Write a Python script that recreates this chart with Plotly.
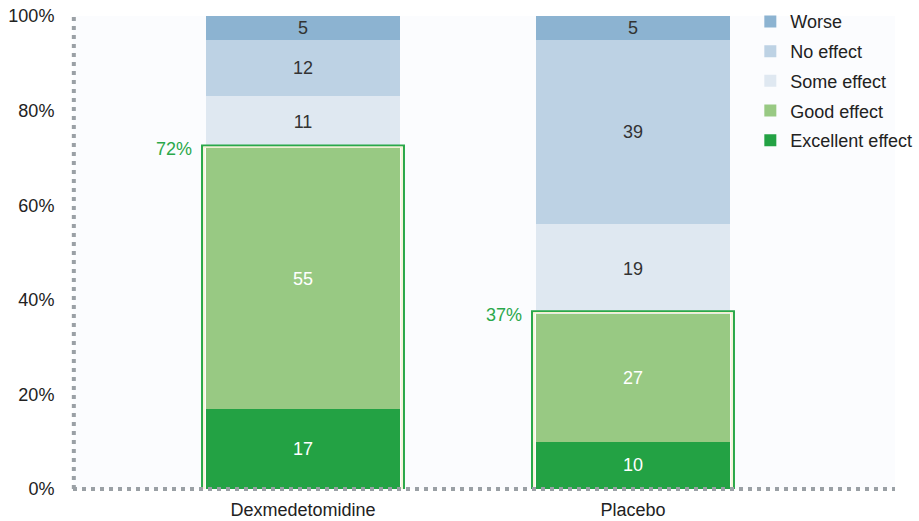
import plotly.graph_objects as go

categories = ["Dexmedetomidine", "Placebo"]
series_names = ["Excellent effect", "Good effect", "Some effect", "No effect", "Worse"]
excellent = [17, 10]
good = [55, 27]
some = [11, 19]
no_effect = [12, 39]
worse = [5, 5]
combined_labels = ["72%", "37%"]
y_ticks = [0, 20, 40, 60, 80, 100]

series_values = [excellent, good, some, no_effect, worse]
colors = ["#23a244", "#98c983", "#dfe8f1", "#bdd2e4", "#8cb3d1"]
text_colors = ["white", "white", "#333333", "#333333", "#333333"]

FONT = "Liberation Sans, Arial"
x_pos = list(range(len(categories)))
bar_w = 0.59

fig = go.Figure()
n = len(series_names)
for k, (name, vals, col, tcol) in enumerate(zip(series_names, series_values, colors, text_colors)):
    fig.add_trace(go.Bar(
        x=x_pos, y=vals, name=name, width=bar_w, legendgroup=name,
        legendrank=n - k,
        marker=dict(color=col, line=dict(width=0)),
        text=[str(v) for v in vals], textposition="inside",
        insidetextanchor="middle", textangle=0,
        textfont=dict(size=18, color=tcol, family=FONT),
        hoverinfo="skip",
    ))

shapes = []
annotations = []
pad_x = 0.011
pad_y = 0.6
for i in x_pos:
    top = excellent[i] + good[i]
    x0 = i - bar_w / 2
    x1 = i + bar_w / 2
    shapes.append(dict(type="rect", xref="x", yref="y",
                       x0=x0 - pad_x, x1=x1 + pad_x, y0=0 - pad_y, y1=top + pad_y,
                       line=dict(color="#2aa84a", width=2), fillcolor="rgba(0,0,0,0)"))
    shapes.append(dict(type="rect", xref="x", yref="y",
                       x0=x0 - pad_x / 2.2, x1=x1 + pad_x / 2.2, y0=0 - pad_y / 2.2, y1=top + pad_y / 2.2,
                       line=dict(color="#f6f1c9", width=1.3), fillcolor="rgba(0,0,0,0)"))
    annotations.append(dict(x=x0 - 0.035, y=top, xref="x", yref="y",
                            text=combined_labels[i], showarrow=False,
                            xanchor="right", yanchor="middle", xshift=0, yshift=-1,
                            font=dict(size=18, color="#2aa84a", family=FONT)))

# dotted axis lines
shapes.append(dict(type="line", xref="paper", yref="paper", x0=0.001, x1=0.001, y0=0, y1=1,
                   line=dict(color="#9aa0a5", width=4, dash="4px,5px"), layer="above"))
shapes.append(dict(type="line", xref="paper", yref="paper", x0=0, x1=1, y0=0, y1=0,
                   line=dict(color="#9aa0a5", width=4, dash="4px,5px"), layer="above"))

fig.update_layout(
    width=919, height=521,
    margin=dict(l=73, r=24, t=16, b=32, autoexpand=False),
    barmode="stack",
    paper_bgcolor="white",
    plot_bgcolor="#fbfcfe",
    font=dict(family=FONT, size=18, color="#333333"),
    uniformtext=dict(minsize=18, mode="show"),
    xaxis=dict(range=[-0.697, 1.794], tickmode="array", tickvals=x_pos, ticktext=categories,
               showgrid=False, zeroline=False, showline=False, ticks="",
               ticklabelstandoff=8,
               tickfont=dict(size=18, color="#222222")),
    yaxis=dict(range=[0, 100], tickmode="array", tickvals=y_ticks,
               ticktext=[f"{v}%" for v in y_ticks],
               showgrid=False, zeroline=False, showline=False, ticks="outside",
               ticklen=14, tickcolor="rgba(0,0,0,0)",
               tickfont=dict(size=18, color="#222222")),
    legend=dict(x=0.824, y=1.027, xanchor="left", yanchor="top", traceorder="grouped",
                bgcolor="rgba(0,0,0,0)", font=dict(size=18, color="#222222"),
                itemwidth=30, tracegroupgap=3.3),
    shapes=shapes,
    annotations=annotations,
    showlegend=True,
)

fig.write_html("out.html", config={"displayModeBar": False},
               post_script="document.body.style.margin='0px';")
